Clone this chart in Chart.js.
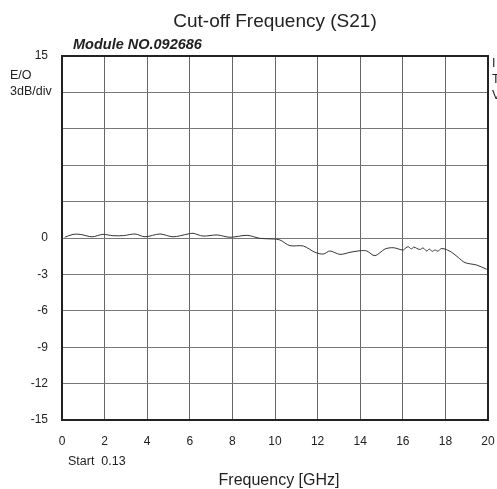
<!DOCTYPE html>
<html>
<head>
<meta charset="utf-8">
<script src="https://cdn.jsdelivr.net/npm/chart.js@4"></script>
<style>
  html, body { margin: 0; padding: 0; background: #fff; }
  #wrap { position: relative; width: 497px; height: 489px; }
</style>
</head>
<body>
<div id="wrap"><canvas id="chartS21" width="497" height="489"></canvas></div>
<script>
// Response curve
const freqs = [0.13, 0.52, 0.85, 1.41, 1.92, 2.39, 2.9, 3.43, 3.9, 4.6, 5.21, 5.92, 6.15, 6.62, 7.28, 7.89, 8.69, 9.3, 9.92,
  10.23, 10.7, 11.33, 11.88, 12.27, 12.58, 13.05, 13.52, 13.99, 14.31, 14.69, 15.16, 15.55, 16.02, 16.15, 16.26, 16.4, 16.52,
  16.65, 16.8, 16.95, 17.12, 17.25, 17.38, 17.51, 17.65, 17.8, 17.98, 18.1, 18.3, 18.6, 18.92, 19.47, 19.94];
const gains = [0.06, 0.3, 0.3, 0.1, 0.3, 0.19, 0.2, 0.33, 0.1, 0.33, 0.1, 0.33, 0.39, 0.16, 0.25, 0.06, 0.22, -0.03, -0.08,
  -0.16, -0.63, -0.66, -1.18, -1.32, -1.07, -1.35, -1.18, -1.05, -1.07, -1.46, -0.91, -0.8, -0.99, -0.8, -0.72, -0.9, -0.75,
  -0.85, -0.95, -0.82, -1.07, -0.92, -1.1, -0.99, -1.08, -0.88, -0.91, -1.0, -1.18, -1.6, -2.03, -2.23, -2.58];
const yShown = [15, 0, -3, -6, -9, -12, -15];

const textPlugin = {
  id: 'texts',
  afterDraw(chart) {
    const { ctx, chartArea: a } = chart;
    ctx.save();
    // frame
    ctx.strokeStyle = '#222';
    ctx.lineWidth = 2;
    ctx.strokeRect(a.left, a.top, a.right - a.left, a.bottom - a.top);
    ctx.fillStyle = '#222';
    ctx.textBaseline = 'middle';
    ctx.font = '19px "Liberation Sans", Arial, sans-serif';
    ctx.textAlign = 'center';
    ctx.fillText('Cut-off Frequency (S21)', 275, 22);
    ctx.font = 'italic bold 14.5px "Liberation Sans", Arial, sans-serif';
    ctx.textAlign = 'left';
    ctx.fillText('Module NO.092686', 73, 45);
    ctx.font = '12.5px "Liberation Sans", Arial, sans-serif';
    ctx.fillText('E/O', 10, 76);
    ctx.fillText('3dB/div', 10, 92);
    ctx.fillText('Start  0.13', 68, 462);
    ctx.fillText('I', 492, 64);
    ctx.fillText('T', 492, 80);
    ctx.fillText('V', 492, 96);
    ctx.font = '16px "Liberation Sans", Arial, sans-serif';
    ctx.textAlign = 'center';
    ctx.fillText('Frequency [GHz]', 279, 481);
    ctx.restore();
  }
};

new Chart(document.getElementById('chartS21'), {
  type: 'line',
  data: {
    datasets: [{
      data: freqs.map((f, i) => ({ x: f, y: gains[i] })),
      borderColor: '#333',
      borderWidth: 1,
      pointRadius: 0,
      tension: 0.3,
      fill: false
    }]
  },
  options: {
    responsive: false,
    animation: false,
    layout: { padding: { top: 56, right: 9, bottom: 0, left: 0 } },
    plugins: { legend: { display: false }, tooltip: { enabled: false } },
    scales: {
      x: {
        type: 'linear', min: 0, max: 20,
        ticks: { stepSize: 2, color: '#222', font: { size: 12, family: '"Liberation Sans", Arial' }, padding: 14, maxRotation: 0 },
        grid: { color: '#666', drawTicks: false },
        border: { display: false },
        afterFit: s => { s.height = 69; s.paddingRight = 0; s.paddingLeft = 0; }
      },
      y: {
        min: -15, max: 15,
        ticks: {
          stepSize: 3, color: '#222', font: { size: 12, family: '"Liberation Sans", Arial' }, padding: 14,
          callback: v => yShown.includes(v) ? String(v) : ''
        },
        grid: { color: '#777', drawTicks: false },
        border: { display: false },
        afterFit: s => { s.width = 62; s.paddingTop = 0; s.paddingBottom = 0; }
      }
    }
  },
  plugins: [textPlugin]
});
</script>
</body>
</html>
